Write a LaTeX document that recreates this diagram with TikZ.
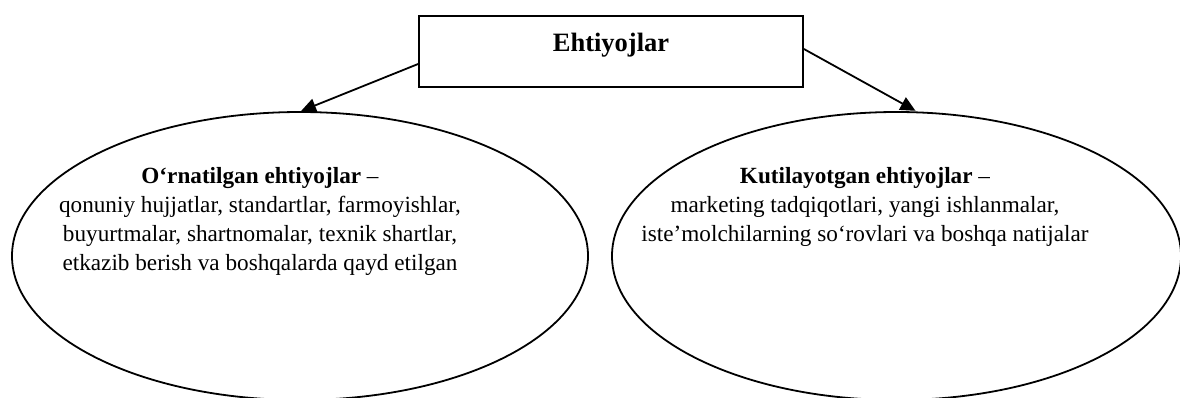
\documentclass[tikz,border=0pt]{standalone}
\usepackage{fontspec}
\setmainfont{Liberation Serif}
\usetikzlibrary{shapes.geometric,arrows.meta}

\tikzset{
  outline/.style={draw=black, line width=1.8pt},
  headbox/.style={outline, rectangle, minimum width=384pt, inner xsep=0pt,
    inner ysep=0pt, text height=35.7pt, text depth=35.3pt,
    font=\fontsize{26.5}{30}\selectfont\bfseries},
  bubble/.style={outline, ellipse, inner sep=0pt},
  bodytext/.style={align=center, inner sep=0pt, anchor=base,
    font=\fontsize{23.2}{29}\selectfont},
  link/.style={black, line width=1.8pt,
    -{Triangle[length=15pt,width=14pt]}}
}

\begin{document}
\begin{tikzpicture}[x=1pt,y=-1pt]
  \useasboundingbox (0,0) rectangle (1180,397);

  % top box
  \node[headbox] (top) at (611,51.5) {Ehtiyojlar};

  % the two groups of needs
  \node[bubble, minimum width=576pt, minimum height=288pt] (le) at (300,256) {};
  \node[bubble, minimum width=569pt, minimum height=288pt] (re) at (896.5,256) {};

  \node[bodytext] (lt) at (260,270) {\textbf{O‘rnatilgan ehtiyojlar} –\\
    qonuniy hujjatlar, standartlar, farmoyishlar,\\
    buyurtmalar, shartnomalar, texnik shartlar,\\
    etkazib berish va boshqalarda qayd etilgan};

  \node[bodytext] (rt) at (865,241) {\textbf{Kutilayotgan ehtiyojlar} –\\
    marketing tadqiqotlari, yangi ishlanmalar,\\
    iste’molchilarning so‘rovlari va boshqa natijalar};

  % connectors
  \draw[link] ([yshift=-12.5pt]top.west) -- ([xshift=1pt]le.north);
  \draw[link] ([yshift=2.5pt]top.east) -- ([xshift=19pt,yshift=0.3pt]re.north);
\end{tikzpicture}
\end{document}
